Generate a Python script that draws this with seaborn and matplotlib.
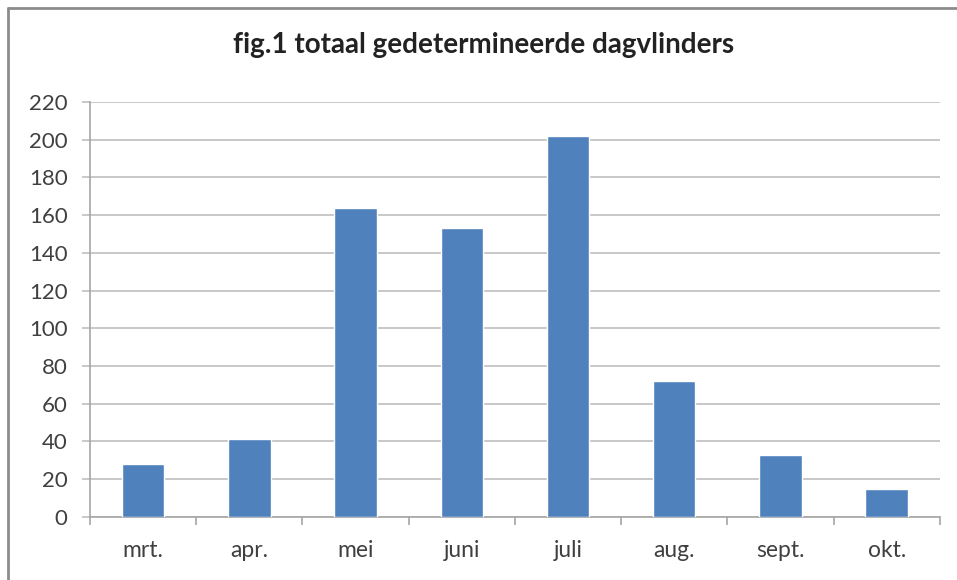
import matplotlib
matplotlib.use('Agg')
import matplotlib.pyplot as plt
from matplotlib.lines import Line2D
import seaborn as sns
import pandas as pd

# data
maanden = ['mrt.', 'apr.', 'mei', 'juni', 'juli', 'aug.', 'sept.', 'okt.']
aantallen = [28, 41, 164, 153, 202, 72, 33, 15]
y_ticks = list(range(0, 221, 20))

sns.set_theme(style='white')
plt.rcParams['font.family'] = ['Lato', 'DejaVu Sans']

df = pd.DataFrame({'maand': maanden, 'aantal': aantallen})

fig = plt.figure(figsize=(9.57, 5.8), dpi=100)
ax = fig.add_axes([0.094, 0.109, 0.888, 0.715])

sns.barplot(data=df, x='maand', y='aantal', color='#4F81BD', saturation=1,
            width=0.4, ax=ax, zorder=3)

ax.set_xlim(-0.5, len(maanden) - 0.5)
ax.set_ylim(0, 220)
ax.set_yticks(y_ticks)
ax.grid(axis='y', color='#BFBFBF', linewidth=1.2, zorder=0)
ax.set_xlabel('')
ax.set_ylabel('')

for s in ['top', 'right']:
    ax.spines[s].set_visible(False)
for s in ['left', 'bottom']:
    ax.spines[s].set_color('#A6A6A6')
    ax.spines[s].set_linewidth(1.2)

ax.tick_params(axis='y', length=6, width=1.2, color='#BFBFBF', pad=10,
               labelsize=16, labelcolor='#404040', left=True)
ax.tick_params(axis='x', length=0, pad=17, labelsize=16.5, labelcolor='#404040')
ax.set_xticks([i + 0.5 for i in range(-1, len(maanden))], minor=True)
ax.tick_params(axis='x', which='minor', length=6, width=1.2, color='#A6A6A6', bottom=True)

fig.suptitle('fig.1 totaal gedetermineerde dagvlinders', x=0.505, y=0.945,
             fontsize=20, fontweight='bold', color='#222222')

# outer chart frame (top and left only visible)
fig.add_artist(Line2D([8 / 957, 1], [1 - 8 / 580, 1 - 8 / 580], color='#8C8C8C', linewidth=2))
fig.add_artist(Line2D([8 / 957, 8 / 957], [0, 1 - 8 / 580], color='#8C8C8C', linewidth=2))

fig.savefig('out.png', dpi=100)
